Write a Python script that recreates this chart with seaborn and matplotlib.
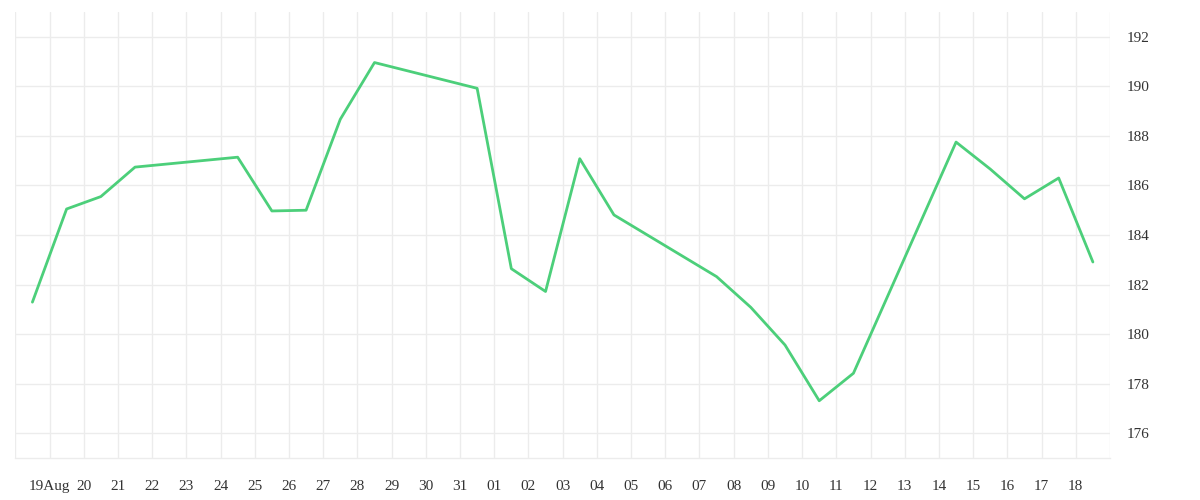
import datetime as dt

import matplotlib
matplotlib.use('Agg')
import matplotlib.pyplot as plt
import matplotlib.dates as mdates
import pandas as pd
import seaborn as sns

# 交易日与收盘价
trade_dates = ['2025-08-19', '2025-08-20', '2025-08-21', '2025-08-22',
               '2025-08-25', '2025-08-26', '2025-08-27', '2025-08-28', '2025-08-29',
               '2025-09-01', '2025-09-02', '2025-09-03', '2025-09-04', '2025-09-05',
               '2025-09-08', '2025-09-09', '2025-09-10', '2025-09-11', '2025-09-12',
               '2025-09-15', '2025-09-16', '2025-09-17', '2025-09-18', '2025-09-19']
close_prices = [181.29, 185.05, 185.55, 186.74,
                187.14, 184.97, 185.00, 188.67, 190.96,
                189.92, 182.64, 181.72, 187.08, 184.81,
                182.32, 181.08, 179.56, 177.31, 178.42,
                187.75, 186.66, 185.46, 186.30, 182.91]

# 横轴刻度
tick_days = pd.date_range('2025-08-18', '2025-09-19', freq='D')
tick_labels = ([''] + ['19Aug'] + ['%02d' % d for d in range(20, 32)]
               + ['%02d' % d for d in range(1, 19)] + [''])
y_ticks = [176, 178, 180, 182, 184, 186, 188, 190, 192]

LINE_COLOR = '#4ccf7a'
GRID_COLOR = '#ececec'


def build_data():
    df = pd.DataFrame({'date': pd.to_datetime(trade_dates), 'price': close_prices})
    # 时间戳显示时区偏移半天
    df['date'] = df['date'] - pd.Timedelta(hours=12)
    return df


def draw(df):
    sns.set_style('white')
    plt.rcParams['font.family'] = ['Liberation Serif', 'DejaVu Serif']

    fig = plt.figure(figsize=(12, 5), dpi=100)
    ax = fig.add_axes([15.3 / 1200, 42 / 500, (1110 - 15.3) / 1200, (458 - 12) / 500])

    sns.lineplot(data=df, x='date', y='price', ax=ax, color=LINE_COLOR, linewidth=2.0)

    ax.set_xlim(tick_days[0], tick_days[-1])
    ax.set_ylim(175, 193)

    ax.set_xticks(tick_days)
    ax.set_xticklabels(tick_labels)
    ax.set_yticks(y_ticks)

    ax.yaxis.tick_right()
    ax.tick_params(axis='x', length=10, width=1, color=GRID_COLOR, pad=6,
                   labelsize=11, labelcolor='#333333')
    ax.tick_params(axis='y', length=0, pad=12, labelsize=11, labelcolor='#333333')

    ax.grid(True, color=GRID_COLOR, linewidth=1)
    ax.set_axisbelow(True)
    for side in ['top', 'left', 'right']:
        ax.spines[side].set_visible(False)
    ax.spines['bottom'].set_color(GRID_COLOR)
    ax.spines['bottom'].set_linewidth(1)

    ax.set_xlabel('')
    ax.set_ylabel('')

    fig.savefig('out.png', dpi=100)


def main():
    df = build_data()
    draw(df)


if __name__ == '__main__':
    main()
